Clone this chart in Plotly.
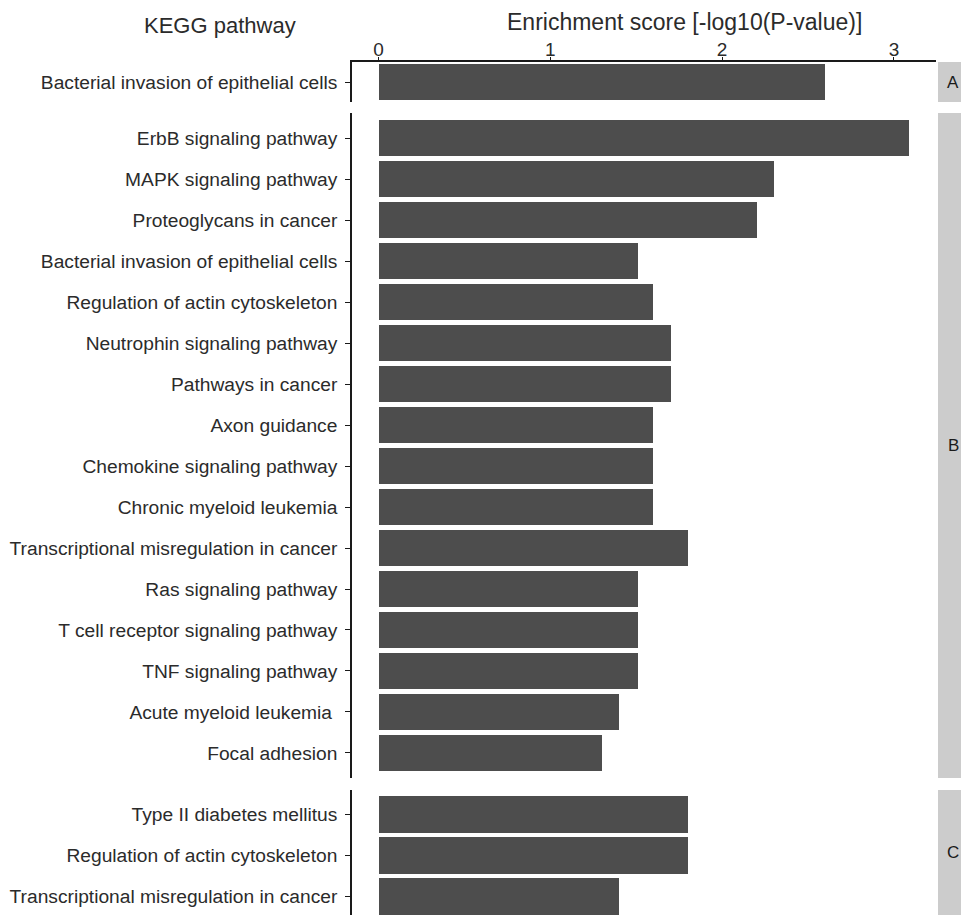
import plotly.graph_objects as go

# ---------------- data ----------------
labels_A = ["Bacterial invasion of epithelial cells"]
values_A = [2.60]

labels_B = [
    "ErbB signaling pathway",
    "MAPK signaling pathway",
    "Proteoglycans in cancer",
    "Bacterial invasion of epithelial cells",
    "Regulation of actin cytoskeleton",
    "Neutrophin signaling pathway",
    "Pathways in cancer",
    "Axon guidance",
    "Chemokine signaling pathway",
    "Chronic myeloid leukemia",
    "Transcriptional misregulation in cancer",
    "Ras signaling pathway",
    "T cell receptor signaling pathway",
    "TNF signaling pathway",
    "Acute myeloid leukemia\u00a0",
    "Focal adhesion",
]
values_B = [3.09, 2.30, 2.20, 1.51, 1.60, 1.70, 1.70, 1.60, 1.60, 1.60,
            1.80, 1.51, 1.51, 1.51, 1.40, 1.30]

labels_C = [
    "Type II diabetes mellitus",
    "Regulation of actin cytoskeleton",
    "Transcriptional misregulation in cancer",
]
values_C = [1.80, 1.80, 1.40]

facet_names = ["A", "B", "C"]
x_ticks = [0, 1, 2, 3]

x_title = "Enrichment score [-log10(P-value)]"
y_title = "KEGG pathway"

# ---------------- layout geometry ----------------
W, H = 961, 915
ML, MR, MT, MB = 352, 25, 62, 0
PW = W - ML - MR
PH = H - MT - MB


def py(pix):
    """pixel row -> paper y"""
    return (H - MB - pix) / PH


def px(pix):
    return (pix - ML) / PW


dom_A = [py(102), py(62)]
dom_B = [py(778), py(113)]
dom_C = [py(915), py(790)]

BAR = "#4D4D4D"
AX = "#1a1a1a"
TXT = "#2b2b2b"
FONT = "Liberation Sans, Arial, sans-serif"

fig = go.Figure()
for lab, val, ya in [(labels_A, values_A, "y"), (labels_B, values_B, "y2"), (labels_C, values_C, "y3")]:
    fig.add_trace(go.Bar(
        x=val, y=lab, orientation="h", xaxis="x", yaxis=ya,
        marker=dict(color=BAR, line=dict(width=0)), width=0.9,
        showlegend=False, hoverinfo="x+y",
    ))

yaxis_common = dict(
    type="category", categoryorder="array", anchor="x",
    showline=True, linecolor=AX, linewidth=1.6,
    ticks="outside", ticklen=5, tickwidth=1.4, tickcolor=AX,
    tickfont=dict(family=FONT, size=19.2, color=TXT),
    showgrid=False, zeroline=False, fixedrange=True,
    ticklabelstandoff=4,
)

fig.update_layout(
    width=W, height=H,
    margin=dict(l=ML, r=MR, t=MT, b=MB, pad=0),
    plot_bgcolor="white", paper_bgcolor="white",
    bargap=0,
    font=dict(family=FONT, color=TXT),
    xaxis=dict(
        domain=[0, 1], anchor="y", side="top",
        range=[-0.155, 3.245], tickvals=x_ticks,
        showline=True, linecolor=AX, linewidth=1.6,
        ticks="outside", ticklen=3, tickwidth=1.4, tickcolor=AX,
        tickfont=dict(family=FONT, size=19, color=TXT),
        ticklabelstandoff=-6,
        showgrid=False, zeroline=False, fixedrange=True,
    ),
    yaxis=dict(domain=dom_A, categoryarray=labels_A, range=[0.49, -0.49], **yaxis_common),
    yaxis2=dict(domain=dom_B, categoryarray=labels_B, range=[15.61, -0.61], **yaxis_common),
    yaxis3=dict(domain=dom_C, categoryarray=labels_C, range=[2.45, -0.60], **yaxis_common),
)

# facet strips on the right
shapes = []
annotations = []
for name, dom in zip(facet_names, [dom_A, dom_B, dom_C]):
    shapes.append(dict(type="rect", xref="paper", yref="paper",
                       x0=px(938), x1=px(975), y0=dom[0], y1=dom[1],
                       fillcolor="#CCCCCC", line=dict(width=0), layer="below"))
    annotations.append(dict(text=name, xref="paper", yref="paper",
                            x=px(953), y=(dom[0] + dom[1]) / 2,
                            xanchor="center", yanchor="middle", showarrow=False,
                            font=dict(family=FONT, size=17, color="#1a1a1a")))

annotations.append(dict(text=x_title, xref="paper", yref="paper",
                        x=px(684), y=py(22), xanchor="center", yanchor="middle",
                        showarrow=False, font=dict(family=FONT, size=23, color=TXT)))
annotations.append(dict(text=y_title, xref="paper", yref="paper",
                        x=px(220), y=py(26), xanchor="center", yanchor="middle",
                        showarrow=False, font=dict(family=FONT, size=22, color=TXT)))

fig.update_layout(shapes=shapes, annotations=annotations)

fig.write_html("out.html")
